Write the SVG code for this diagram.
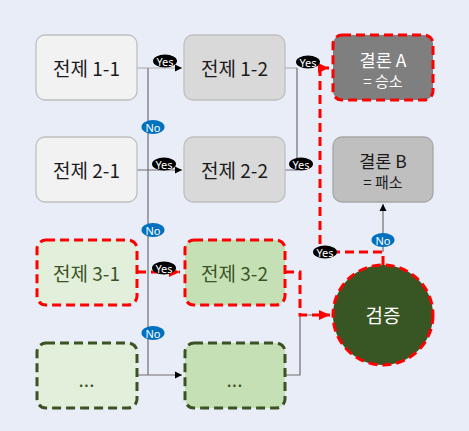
<svg xmlns="http://www.w3.org/2000/svg" width="469" height="431" viewBox="0 0 469 431">
<defs>
<style>
.lbl{font-family:"Noto Sans CJK KR","Noto Sans",sans-serif;text-anchor:middle;dominant-baseline:central}
.t{font-size:19px;fill:#1a1a1a}
.g{fill:#3b5323}
.w{fill:#ffffff}
.box{stroke-width:1.3}
.red{stroke:#ff0000;stroke-width:3;stroke-dasharray:9 5;fill:none}
.grn{stroke:#3b5323;stroke-width:3;stroke-dasharray:9 5}
.ln{stroke:#6e6e6e;stroke-width:1.2;fill:none}
.lnl{stroke:#b0b0b0;stroke-width:1.2;fill:none}
.yes{fill:#000}
.no{fill:#0070c0}
.bt{font-family:"Noto Sans","Liberation Sans",sans-serif;font-size:11px;fill:#fff;text-anchor:middle;dominant-baseline:central}
</style>
<marker id="ab" markerWidth="8" markerHeight="8" refX="7" refY="4" orient="auto" markerUnits="userSpaceOnUse"><path d="M0,0.5 L7,4 L0,7.5 Z" fill="#000"/></marker>
<marker id="ar" markerWidth="12" markerHeight="12" refX="11" refY="6" orient="auto" markerUnits="userSpaceOnUse"><path d="M0,1 L11,6 L0,11 Z" fill="#ff0000"/></marker>
</defs>
<rect width="469" height="431" fill="#e9edf7"/>

<g id="connectors">
<path class="lnl" d="M137,68 H148"/>
<path class="ln" d="M148,68 V375"/>
<path class="lnl" d="M148,68 H182" marker-end="url(#ab)"/>
<path class="ln" d="M137,170 H182" marker-end="url(#ab)"/>
<path class="ln" d="M137,375 H182" marker-end="url(#ab)"/>
<path class="lnl" d="M285,68 H297"/>
<path class="ln" d="M297,68 V170 H285"/>
<path class="ln" d="M285,375 H300 V315 H318"/>
<path class="ln" d="M383,252 V204" marker-end="url(#ab)"/>
<path class="red" d="M137,272 H180" marker-end="url(#ar)"/>
<path class="red" d="M285,272 H300 V315 H330" marker-end="url(#ar)"/>
<path class="red" d="M383,265 V252 H320 V68 H329" marker-end="url(#ar)"/>
<g id="lbl-yes1"><ellipse class="yes" cx="165" cy="61" rx="12" ry="6.5"/><text class="bt" x="165" y="61">Yes</text></g>
<g id="lbl-yes2"><ellipse class="yes" cx="164" cy="164" rx="12" ry="6.5"/><text class="bt" x="164" y="164">Yes</text></g>
<g id="lbl-yes3"><ellipse class="yes" cx="164" cy="268" rx="12" ry="6.5"/><text class="bt" x="164" y="268">Yes</text></g>
<g id="lbl-yes4"><ellipse class="yes" cx="308" cy="62" rx="12" ry="6.5"/><text class="bt" x="308" y="62">Yes</text></g>
<g id="lbl-yes5"><ellipse class="yes" cx="301" cy="164" rx="12" ry="6.5"/><text class="bt" x="301" y="164">Yes</text></g>
<g id="lbl-yes6"><ellipse class="yes" cx="325" cy="252" rx="12" ry="6.5"/><text class="bt" x="325" y="252">Yes</text></g>
<g id="lbl-no1"><ellipse class="no" cx="153" cy="127" rx="11.5" ry="7"/><text class="bt" x="153" y="127">No</text></g>
<g id="lbl-no2"><ellipse class="no" cx="153" cy="230" rx="11.5" ry="7"/><text class="bt" x="153" y="230">No</text></g>
<g id="lbl-no3"><ellipse class="no" cx="153" cy="333" rx="11.5" ry="7"/><text class="bt" x="153" y="333">No</text></g>
<g id="lbl-no4"><ellipse class="no" cx="383" cy="240" rx="11.5" ry="7"/><text class="bt" x="383" y="240">No</text></g>
</g>

<g id="p11"><rect class="box" x="36" y="35" width="101" height="65" rx="9" fill="#f2f2f2" stroke="#bfbfbf"/><text class="lbl t" x="86.5" y="67.5">전제 1-1</text></g>
<g id="p12"><rect class="box" x="184" y="35" width="101" height="65" rx="9" fill="#d9d9d9" stroke="#bfbfbf"/><text class="lbl t" x="234.5" y="67.5">전제 1-2</text></g>
<g id="cA"><rect x="333" y="35" width="100" height="65" rx="9" fill="#7f7f7f"/><rect class="red" x="333" y="35" width="100" height="65" rx="9"/><text class="lbl w" x="383" y="59" font-size="17.5">결론 A</text><text class="lbl w" x="383" y="80" font-size="15">= 승소</text></g>
<g id="p21"><rect class="box" x="36" y="137" width="101" height="65" rx="9" fill="#f2f2f2" stroke="#bfbfbf"/><text class="lbl t" x="86.5" y="169.5">전제 2-1</text></g>
<g id="p22"><rect class="box" x="184" y="137" width="101" height="65" rx="9" fill="#d9d9d9" stroke="#bfbfbf"/><text class="lbl t" x="234.5" y="169.5">전제 2-2</text></g>
<g id="cB"><rect class="box" x="333" y="137" width="100" height="65" rx="9" fill="#bfbfbf" stroke="#a6a6a6"/><text class="lbl" x="383" y="160" font-size="17.5" fill="#1a1a1a">결론 B</text><text class="lbl" x="383" y="181" font-size="15" fill="#1a1a1a">= 패소</text></g>
<g id="p31"><rect class="red" x="37" y="240" width="100" height="65" rx="9" style="fill:#e2efda"/><text class="lbl t g" x="86.5" y="272.5">전제 3-1</text></g>
<g id="p32"><rect class="red" x="185" y="240" width="100" height="65" rx="9" style="fill:#c5e0b4"/><text class="lbl t g" x="234.5" y="272.5">전제 3-2</text></g>
<g id="p41"><rect class="grn" x="37" y="343" width="100" height="65" rx="9" fill="#e2efda"/><text class="lbl t g" x="86.5" y="378" font-size="16">...</text></g>
<g id="p42"><rect class="grn" x="185" y="343" width="100" height="65" rx="9" fill="#c5e0b4"/><text class="lbl t g" x="234.5" y="378" font-size="16">...</text></g>
<g id="verify"><circle cx="383" cy="315" r="50" fill="#375623"/><circle class="red" cx="383" cy="315" r="50"/><text class="lbl w" x="383" y="314" font-size="19">검증</text></g>
</svg>
